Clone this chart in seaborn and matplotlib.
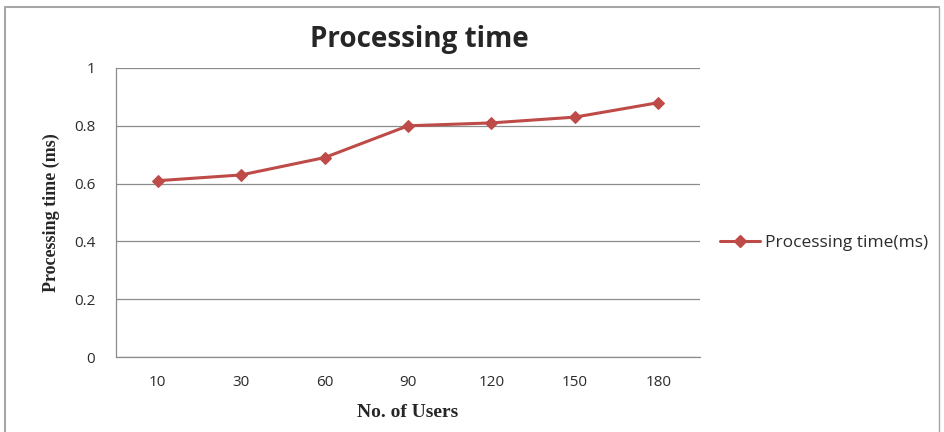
import pandas as pd
import seaborn as sns
from matplotlib import pyplot as plt
from matplotlib.lines import Line2D

# data
users = ["10", "30", "60", "90", "120", "150", "180"]
proc_time = [0.61, 0.63, 0.69, 0.80, 0.81, 0.83, 0.88]
series_name = "Processing time(ms)"

df = pd.DataFrame({"users": users, "time": proc_time})

sns.set_style("white")
plt.rcParams["font.family"] = ["Open Sans", "DejaVu Sans"]

fig = plt.figure(figsize=(9.45, 4.32), dpi=100)
ax = fig.add_axes([0.1228, 0.1736, 0.618, 0.669])

line_color = "#BE4B48"
sns.lineplot(data=df, x="users", y="time", ax=ax, color=line_color,
             marker="D", markersize=6, markeredgecolor=line_color,
             linewidth=2.2, label=series_name, sort=False)

ax.set_xlim(-0.5, len(users) - 0.5)
ax.set_ylim(0, 1)
ax.set_yticks([0, 0.2, 0.4, 0.6, 0.8, 1])
ax.set_yticklabels(["0", "0.2", "0.4", "0.6", "0.8", "1"])
ax.yaxis.grid(True, color="#8C8C8C", linewidth=0.9)
ax.set_axisbelow(True)

# tick marks between categories, labels centred
tick_col = "#2B2B2B"
ax.set_xticks(range(len(users)))
ax.set_xticks([i - 0.5 for i in range(len(users) + 1)], minor=True)
ax.tick_params(axis="x", which="major", length=0, pad=13, labelsize=11, labelcolor=tick_col)
ax.tick_params(axis="x", which="minor", length=5, color="#8C8C8C", direction="out")
ax.tick_params(axis="y", length=5, color="#8C8C8C", direction="out", pad=10,
               labelsize=11, labelcolor=tick_col)

for s in ["top", "right"]:
    ax.spines[s].set_visible(False)
for s in ["left", "bottom"]:
    ax.spines[s].set_color("#8C8C8C")
    ax.spines[s].set_linewidth(0.9)

ax.set_xlabel("No. of Users", fontfamily="Liberation Serif", fontweight="bold",
              fontsize=14, labelpad=10)
ax.set_ylabel("Processing time (ms)", fontfamily="Liberation Serif", fontweight="bold",
              fontsize=13, labelpad=10)
fig.text(0.444, 0.908, "Processing time", ha="center", va="center",
         fontsize=20, fontweight="bold")

handles = [Line2D([], [], color=line_color, marker="D", markersize=6, linewidth=2.2)]
ax.legend(handles, [series_name], loc="center left", bbox_to_anchor=(1.034, 0.394),
          frameon=False, fontsize=12.5, handlelength=2.3, handletextpad=0.3,
          borderpad=0, borderaxespad=0, labelcolor=tick_col)

# outer chart border
border_color = "#A6A6A6"
fig.add_artist(Line2D([5 / 945, 939 / 945], [1 - 7 / 432, 1 - 7 / 432],
                      transform=fig.transFigure, color=border_color, linewidth=1.5))
fig.add_artist(Line2D([5 / 945, 5 / 945], [0, 1 - 7 / 432],
                      transform=fig.transFigure, color=border_color, linewidth=1.5))
fig.add_artist(Line2D([939 / 945, 939 / 945], [0, 1 - 7 / 432],
                      transform=fig.transFigure, color=border_color, linewidth=1.0))

fig.savefig("out.png", dpi=100)
